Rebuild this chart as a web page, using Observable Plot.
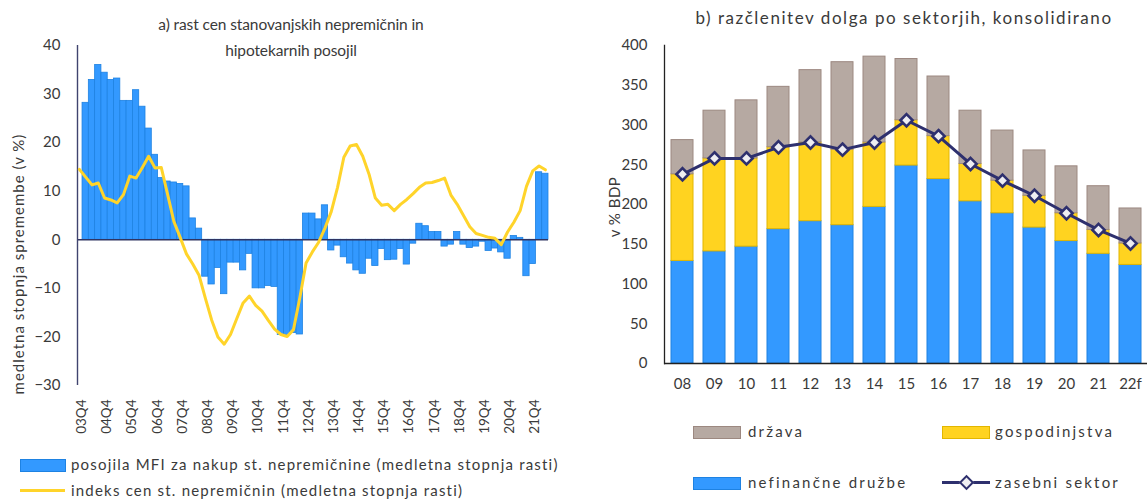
<!DOCTYPE html>
<html><head><meta charset="utf-8">
<script src="https://cdn.jsdelivr.net/npm/d3@7"></script>
<script src="https://cdn.jsdelivr.net/npm/@observablehq/plot@0.6"></script>
<style>
body{margin:0;background:#fff;font-family:Lato,"Open Sans",sans-serif;}
#wrap{position:relative;width:1147px;height:502px;overflow:hidden;background:#fff;}
.abs{position:absolute;white-space:nowrap;color:#3a3a3a;}
#wrap svg{position:absolute;top:0;}
.sw{position:absolute;}
</style></head><body><div id="wrap"></div>
<script>
// ---- panel a) quarterly data ----
// loans: 03Q4 .. 22Q1 (74 quarters)
const loanGrowth = [28.2, 32.9, 36.0, 34.4, 32.9, 33.2, 28.6, 28.6, 30.8, 27.4, 22.9, 17.5, 12.7, 12.0, 11.8, 11.5, 11.0, 4.4, 2.3,
  -7.6, -9.2, -5.8, -11.2, -4.7, -4.7, -6.3, -2.9, -10.0, -10.0, -9.5, -9.7, -19.6, -19.6, -19.2, -19.5,
  5.4, 5.4, 4.2, 7.1, -2.2, -1.2, -3.6, -4.9, -6.3, -7.0, -3.9, -5.4, -1.9, -4.2, -4.1, -1.9, -5.1, -0.8,
  3.3, 2.8, 1.6, 1.6, -1.4, -1.0, 1.6, -1.0, -1.7, -1.4, -0.4, -2.3, -1.8, -2.6, -3.9, 0.8, 0.4, -7.5, -5.0, 13.9, 13.6];
// house prices: 03Q3 .. 22Q1 (75 quarters)
const priceGrowth = [14.5, 12.9, 11.3, 11.7, 8.6, 8.2, 7.6, 9.3, 13.1, 12.7, 14.9, 17.2, 14.8, 14.9, 9.4, 3.8, 0.5, -2.9, -5.0, -7.3,
  -12.0, -16.5, -20.0, -21.5, -19.5, -16.2, -13.0, -11.6, -13.5, -14.7, -16.6, -18.4, -19.5, -19.9, -18.5, -12.0, -4.8, -2.5, -0.5, 2.4,
  5.8, 10.8, 17.0, 19.3, 19.6, 17.2, 13.5, 8.6, 7.1, 7.3, 6.0, 7.3, 8.3, 9.5, 10.8, 11.7, 11.8, 12.2, 12.7, 9.2,
  7.3, 5.0, 2.7, 1.3, 0.9, 0.5, 0.3, -1.0, 1.6, 3.6, 6.0, 11.0, 14.2, 15.2, 14.4];
const quarterTicks = ["03Q4","04Q4","05Q4","06Q4","07Q4","08Q4","09Q4","10Q4","11Q4","12Q4","13Q4","14Q4","15Q4","16Q4","17Q4","18Q4","19Q4","20Q4","21Q4"];
const yTicksA = [-30, -20, -10, 0, 10, 20, 30, 40];

// ---- panel b) annual data ----
const years = ["08","09","10","11","12","13","14","15","16","17","18","19","20","21","22f"];
const nfc = [129, 141, 147, 169, 179, 174, 197, 249, 232, 204, 189, 171, 154, 138, 124];
const households = [109, 117, 111, 103, 99, 95, 81, 57, 54, 47, 41, 40, 35, 30, 27];
const government = [43, 60, 73, 76, 91, 110, 108, 77, 75, 67, 63, 57, 59, 55, 44];
const privateSector = [238, 258, 258, 272, 278, 269, 278, 306, 286, 251, 230, 211, 189, 168, 151];
const yTicksB = [0, 50, 100, 150, 200, 250, 300, 350, 400];

const BLUE = "#3399FF", BLUE_E = "#1E82E2";
const YEL = "#FFD320", YEL_E = "#E2B600";
const GRAY = "#B6A9A2", GRAY_E = "#9C8880";
const NAVY = "#2E306E";
const PRICE = "#FFD42A";

const wrap = document.getElementById("wrap");

const loanData = loanGrowth.map((v, i) => ({i, v}));
const priceData = priceGrowth.map((v, k) => ({i: k - 1, v}));
const xMinA = -1.3, xMaxA = 73.5;

const left = Plot.plot({
  width: 580, height: 440,
  marginTop: 45, marginBottom: 55, marginLeft: 77, marginRight: 32,
  x: {type: "linear", domain: [xMinA, xMaxA]},
  y: {domain: [-30, 40]},
  style: {fontFamily: "Lato, sans-serif", fontSize: "15px", color: "#3a3a3a", background: "transparent"},
  marks: [
    Plot.rect(loanData, {x1: d => d.i - 0.5, x2: d => d.i + 0.5, y1: d => 0, y2: "v", fill: BLUE, stroke: BLUE_E, strokeWidth: 0.8}),
    Plot.ruleY([0], {stroke: "#2F3463", strokeWidth: 1.4}),
    Plot.ruleX([xMinA], {stroke: "#40446F", strokeWidth: 1.4}),
    Plot.line(priceData, {x: "i", y: "v", stroke: PRICE, strokeWidth: 3}),
    Plot.axisY({ticks: yTicksA, tickSize: 0, tickPadding: 17, label: null, fontSize: 15}),
    Plot.axisX({ticks: quarterTicks.map((t, k) => k * 4), tickFormat: d => quarterTicks[d / 4], tickRotate: -90, tickSize: 0, tickPadding: 14, label: null, fontSize: 13.5, dx: -4})
  ]
});
left.style.left = "0px";
wrap.appendChild(left);

const debt = years.map((y, k) => ({year: y, nfc: nfc[k], hh: households[k], gov: government[k], priv: privateSector[k]}));

const right = Plot.plot({
  width: 547, height: 403,
  marginTop: 45, marginBottom: 40, marginLeft: 64, marginRight: 0,
  x: {type: "band", domain: years, paddingInner: 0.32, paddingOuter: 0.16},
  y: {domain: [0, 400]},
  style: {fontFamily: "Lato, sans-serif", fontSize: "15px", color: "#3a3a3a", background: "transparent"},
  marks: [
    Plot.barY(debt, {x: "year", y1: d => 0, y2: "nfc", fill: BLUE, stroke: BLUE_E, strokeWidth: 1}),
    Plot.barY(debt, {x: "year", y1: "nfc", y2: d => d.nfc + d.hh, fill: YEL, stroke: YEL_E, strokeWidth: 1}),
    Plot.barY(debt, {x: "year", y1: d => d.nfc + d.hh, y2: d => d.nfc + d.hh + d.gov, fill: GRAY, stroke: GRAY_E, strokeWidth: 1}),
    Plot.ruleY([0], {stroke: "#222", strokeWidth: 1.3}),
    Plot.frame({anchor: "left", stroke: "#222", strokeWidth: 1.3}),
    Plot.line(debt, {x: "year", y: "priv", stroke: NAVY, strokeWidth: 3}),
    Plot.dot(debt, {x: "year", y: "priv", symbol: "diamond2", r: 5.5, fill: "#EEEEF2", stroke: NAVY, strokeWidth: 2.6}),
    Plot.axisY({ticks: yTicksB, tickSize: 0, tickPadding: 17, label: null, fontSize: 15}),
    Plot.axisX({tickSize: 0, tickPadding: 15, label: null, fontSize: 15})
  ]
});
right.style.left = "600px";
wrap.appendChild(right);

function addText(html, css) {
  const d = document.createElement("div");
  d.className = "abs";
  d.innerHTML = html;
  d.style.cssText += css;
  wrap.appendChild(d);
  return d;
}
function addSwatch(css) {
  const d = document.createElement("div");
  d.className = "sw";
  d.style.cssText = css;
  wrap.appendChild(d);
}

// titles
addText("a) rast cen stanovanjskih nepremičnin in<br>hipotekarnih posojil",
  "left:291px;top:11px;transform:translateX(-50%);text-align:center;font-size:15.5px;line-height:26px;letter-spacing:-0.1px;");
addText("b) razčlenitev dolga po sektorjih, konsolidirano",
  "left:904px;top:7px;transform:translateX(-50%);font-size:17px;letter-spacing:1.55px;");
// axis titles
addText("medletna stopnja spremembe (v %)",
  "left:18px;top:264px;transform:translate(-50%,-50%) rotate(-90deg);font-size:15px;letter-spacing:1px;");
addText("v % BDP",
  "left:614px;top:207px;transform:translate(-50%,-50%) rotate(-90deg);font-size:15px;letter-spacing:0.5px;");

// legend a)
addSwatch(`left:20px;top:459px;width:44px;height:11px;background:${BLUE};border:1px solid ${BLUE_E};`);
addText("posojila MFI za nakup st. nepremičnine (medletna stopnja rasti)", "left:71px;top:455px;font-size:15px;letter-spacing:1.2px;");
addSwatch(`left:20px;top:489px;width:45px;height:3px;background:${PRICE};`);
addText("indeks cen st. nepremičnin (medletna stopnja rasti)", "left:71px;top:481px;font-size:15px;letter-spacing:1.2px;");

// legend b)
addSwatch(`left:693px;top:426px;width:46px;height:11px;background:${GRAY};border:1px solid ${GRAY_E};`);
addText("država", "left:748px;top:422px;font-size:15px;letter-spacing:2.2px;");
addSwatch(`left:942px;top:426px;width:46px;height:11px;background:${YEL};border:1px solid ${YEL_E};`);
addText("gospodinjstva", "left:995px;top:422px;font-size:15px;letter-spacing:2.2px;");
addSwatch(`left:693px;top:477px;width:46px;height:11px;background:${BLUE};border:1px solid ${BLUE_E};`);
addText("nefinančne družbe", "left:748px;top:473px;font-size:15px;letter-spacing:2.2px;");
addSwatch(`left:942px;top:481px;width:48px;height:3px;background:${NAVY};`);
addSwatch(`left:961px;top:477px;width:7px;height:7px;background:#EEEEF2;border:2px solid ${NAVY};transform:rotate(45deg);`);
addText("zasebni sektor", "left:995px;top:473px;font-size:15px;letter-spacing:2.2px;");
</script>
</body></html>
